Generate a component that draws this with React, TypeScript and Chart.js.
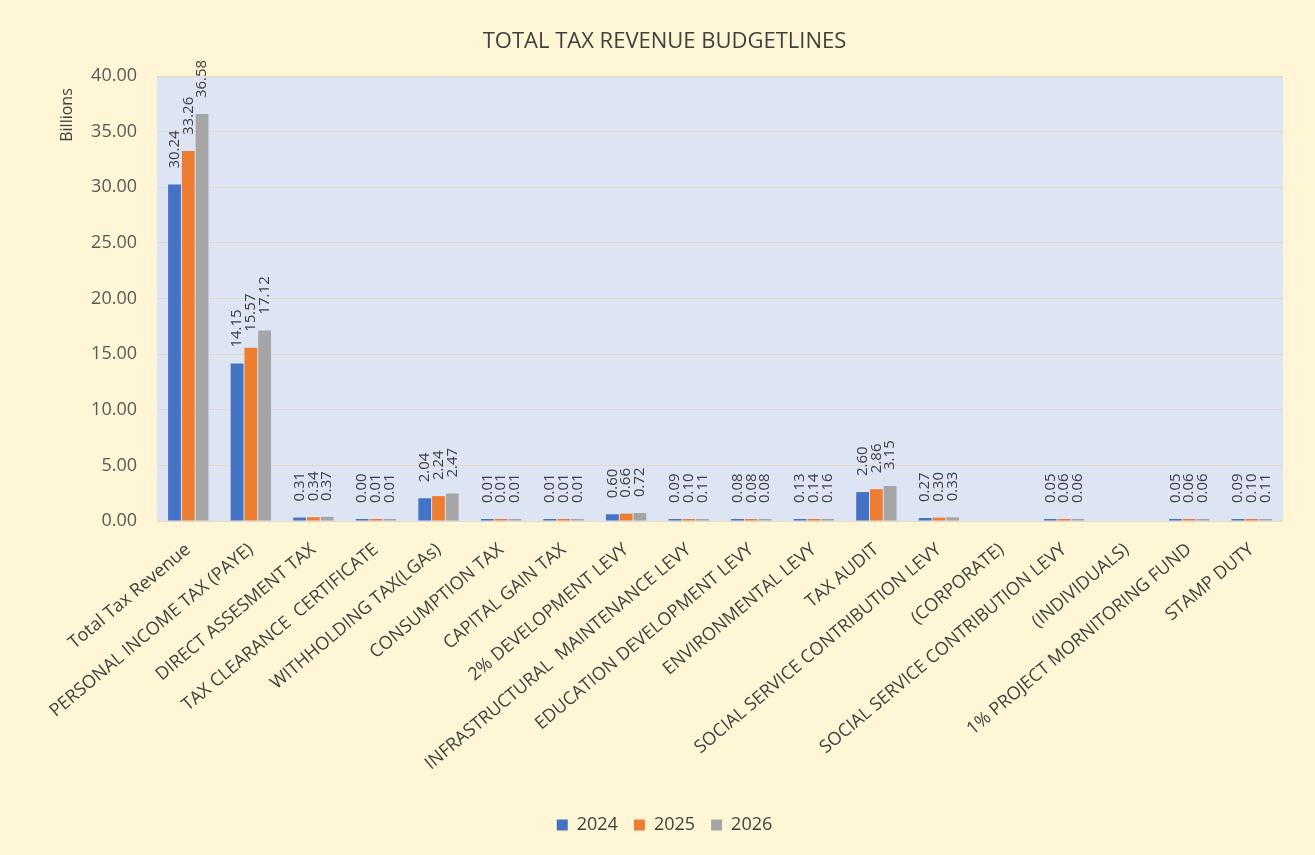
import React, { useEffect, useRef } from "react";
import { Chart, registerables } from "chart.js";

Chart.register(...registerables);

const chartTitle = "TOTAL TAX REVENUE BUDGETLINES";
const unitLabel = "Billions";

const categories = [
  "Total Tax Revenue",
  "PERSONAL INCOME TAX (PAYE)",
  "DIRECT ASSESMENT TAX",
  "TAX CLEARANCE  CERTIFICATE",
  "WITHHOLDING TAX(LGAs)",
  "CONSUMPTION TAX",
  "CAPITAL GAIN TAX",
  "2% DEVELOPMENT LEVY",
  "INFRASTRUCTURAL  MAINTENANCE LEVY",
  "EDUCATION DEVELOPMENT LEVY",
  "ENVIRONMENTAL LEVY",
  "TAX AUDIT",
  "SOCIAL SERVICE CONTRIBUTION LEVY",
  "(CORPORATE)",
  "SOCIAL SERVICE CONTRIBUTION LEVY",
  "(INDIVIDUALS)",
  "1% PROJECT MORNITORING FUND",
  "STAMP DUTY",
];

const seriesNames = ["2024", "2025", "2026"];

const values2024 = [30.24, 14.15, 0.31, 0.0, 2.04, 0.01, 0.01, 0.6, 0.09, 0.08, 0.13, 2.6, 0.27, null, 0.05, null, 0.05, 0.09];
const values2025 = [33.26, 15.57, 0.34, 0.01, 2.24, 0.01, 0.01, 0.66, 0.1, 0.08, 0.14, 2.86, 0.3, null, 0.06, null, 0.06, 0.1];
const values2026 = [36.58, 17.12, 0.37, 0.01, 2.47, 0.01, 0.01, 0.72, 0.11, 0.08, 0.16, 3.15, 0.33, null, 0.06, null, 0.06, 0.11];

const yMin = 0;
const yMax = 40;
const yStep = 5;

const FONT = "'Open Sans', 'DejaVu Sans', sans-serif";
const COLORS = ["#4472C4", "#ED7D31", "#A5A5A5"];
const CREAM = "#FFF6D5";
const PLOT_BG = "#DDE5F5";
const GRID = "#E2D9C6";

const backgroundPlugin = {
  id: "bgFill",
  beforeDraw(chart: any) {
    const { ctx, width, height, chartArea } = chart;
    ctx.save();
    ctx.fillStyle = CREAM;
    ctx.fillRect(0, 0, width, height);
    if (chartArea) {
      ctx.fillStyle = PLOT_BG;
      ctx.fillRect(chartArea.left, chartArea.top, chartArea.right - chartArea.left, chartArea.bottom - chartArea.top);
    }
    ctx.restore();
  },
};

const dataLabelPlugin = {
  id: "barValueLabels",
  afterDatasetsDraw(chart: any) {
    const { ctx } = chart;
    ctx.save();
    ctx.font = `15px ${FONT}`;
    ctx.fillStyle = "#404040";
    ctx.textAlign = "left";
    ctx.textBaseline = "middle";
    chart.data.datasets.forEach((ds: any, di: number) => {
      const meta = chart.getDatasetMeta(di);
      if (meta.hidden) return;
      meta.data.forEach((el: any, i: number) => {
        const v = ds.data[i];
        if (v === null || v === undefined) return;
        ctx.save();
        ctx.translate(el.x, el.y - 16);
        ctx.rotate(-Math.PI / 2);
        ctx.fillText(Number(v).toFixed(2), 0, 0);
        ctx.restore();
      });
    });
    ctx.restore();
  },
};

const unitLabelPlugin = {
  id: "unitLabel",
  afterDraw(chart: any) {
    const { ctx, chartArea } = chart;
    ctx.save();
    ctx.font = `16px ${FONT}`;
    ctx.fillStyle = "#404040";
    ctx.textAlign = "center";
    ctx.textBaseline = "middle";
    ctx.translate(chartArea.left - 90, chartArea.top + 39);
    ctx.rotate(-Math.PI / 2);
    ctx.fillText(unitLabel, 0, 0);
    ctx.restore();
  },
};

export default function App() {
  const canvasRef = useRef<HTMLCanvasElement | null>(null);

  useEffect(() => {
    const canvas = canvasRef.current;
    if (!canvas) return;
    const chart = new Chart(canvas, {
      type: "bar",
      data: {
        labels: categories,
        datasets: [values2024, values2025, values2026].map((vals, i) => ({
          label: seriesNames[i],
          data: vals,
          backgroundColor: COLORS[i],
          borderWidth: 0,
          categoryPercentage: 0.66,
          barPercentage: 0.93,
          minBarLength: 2,
        })),
      },
      options: {
        responsive: false,
        animation: false,
        devicePixelRatio: 1,
        layout: { padding: { left: 46, right: 32, top: 0, bottom: 11 } },
        plugins: {
          title: {
            display: true,
            text: chartTitle,
            color: "#404040",
            font: { family: FONT, size: 22, weight: "normal" },
            padding: { top: 29, bottom: 20.6 },
          },
          legend: {
            position: "bottom",
            labels: {
              boxWidth: 11,
              boxHeight: 11,
              padding: 16,
              color: "#404040",
              font: { family: FONT, size: 18 },
            },
          },
          tooltip: { enabled: false },
        },
        scales: {
          x: {
            grid: { display: false },
            border: { display: false },
            ticks: {
              autoSkip: false,
              maxRotation: 40,
              minRotation: 40,
              padding: 10,
              color: "#404040",
              font: { family: FONT, size: 18 },
            },
            afterFit(scale: any) {
              scale.height = 279;
            },
          },
          y: {
            min: yMin,
            max: yMax,
            ticks: {
              stepSize: yStep,
              padding: 20,
              color: "#595959",
              font: { family: FONT, size: 18 },
              callback: (v: any) => Number(v).toFixed(2),
            },
            grid: { color: GRID, drawTicks: false, lineWidth: 1 },
            border: { display: false },
            afterFit(scale: any) {
              scale.width = 111;
            },
          },
        },
      },
      plugins: [backgroundPlugin, dataLabelPlugin, unitLabelPlugin],
    });
    return () => chart.destroy();
  }, []);

  return (
    <div style={{ position: "absolute", left: 0, top: 0, width: 1315, height: 855, background: CREAM }}>
      <canvas ref={canvasRef} width={1315} height={855} style={{ width: 1315, height: 855, display: "block" }} />
    </div>
  );
}
